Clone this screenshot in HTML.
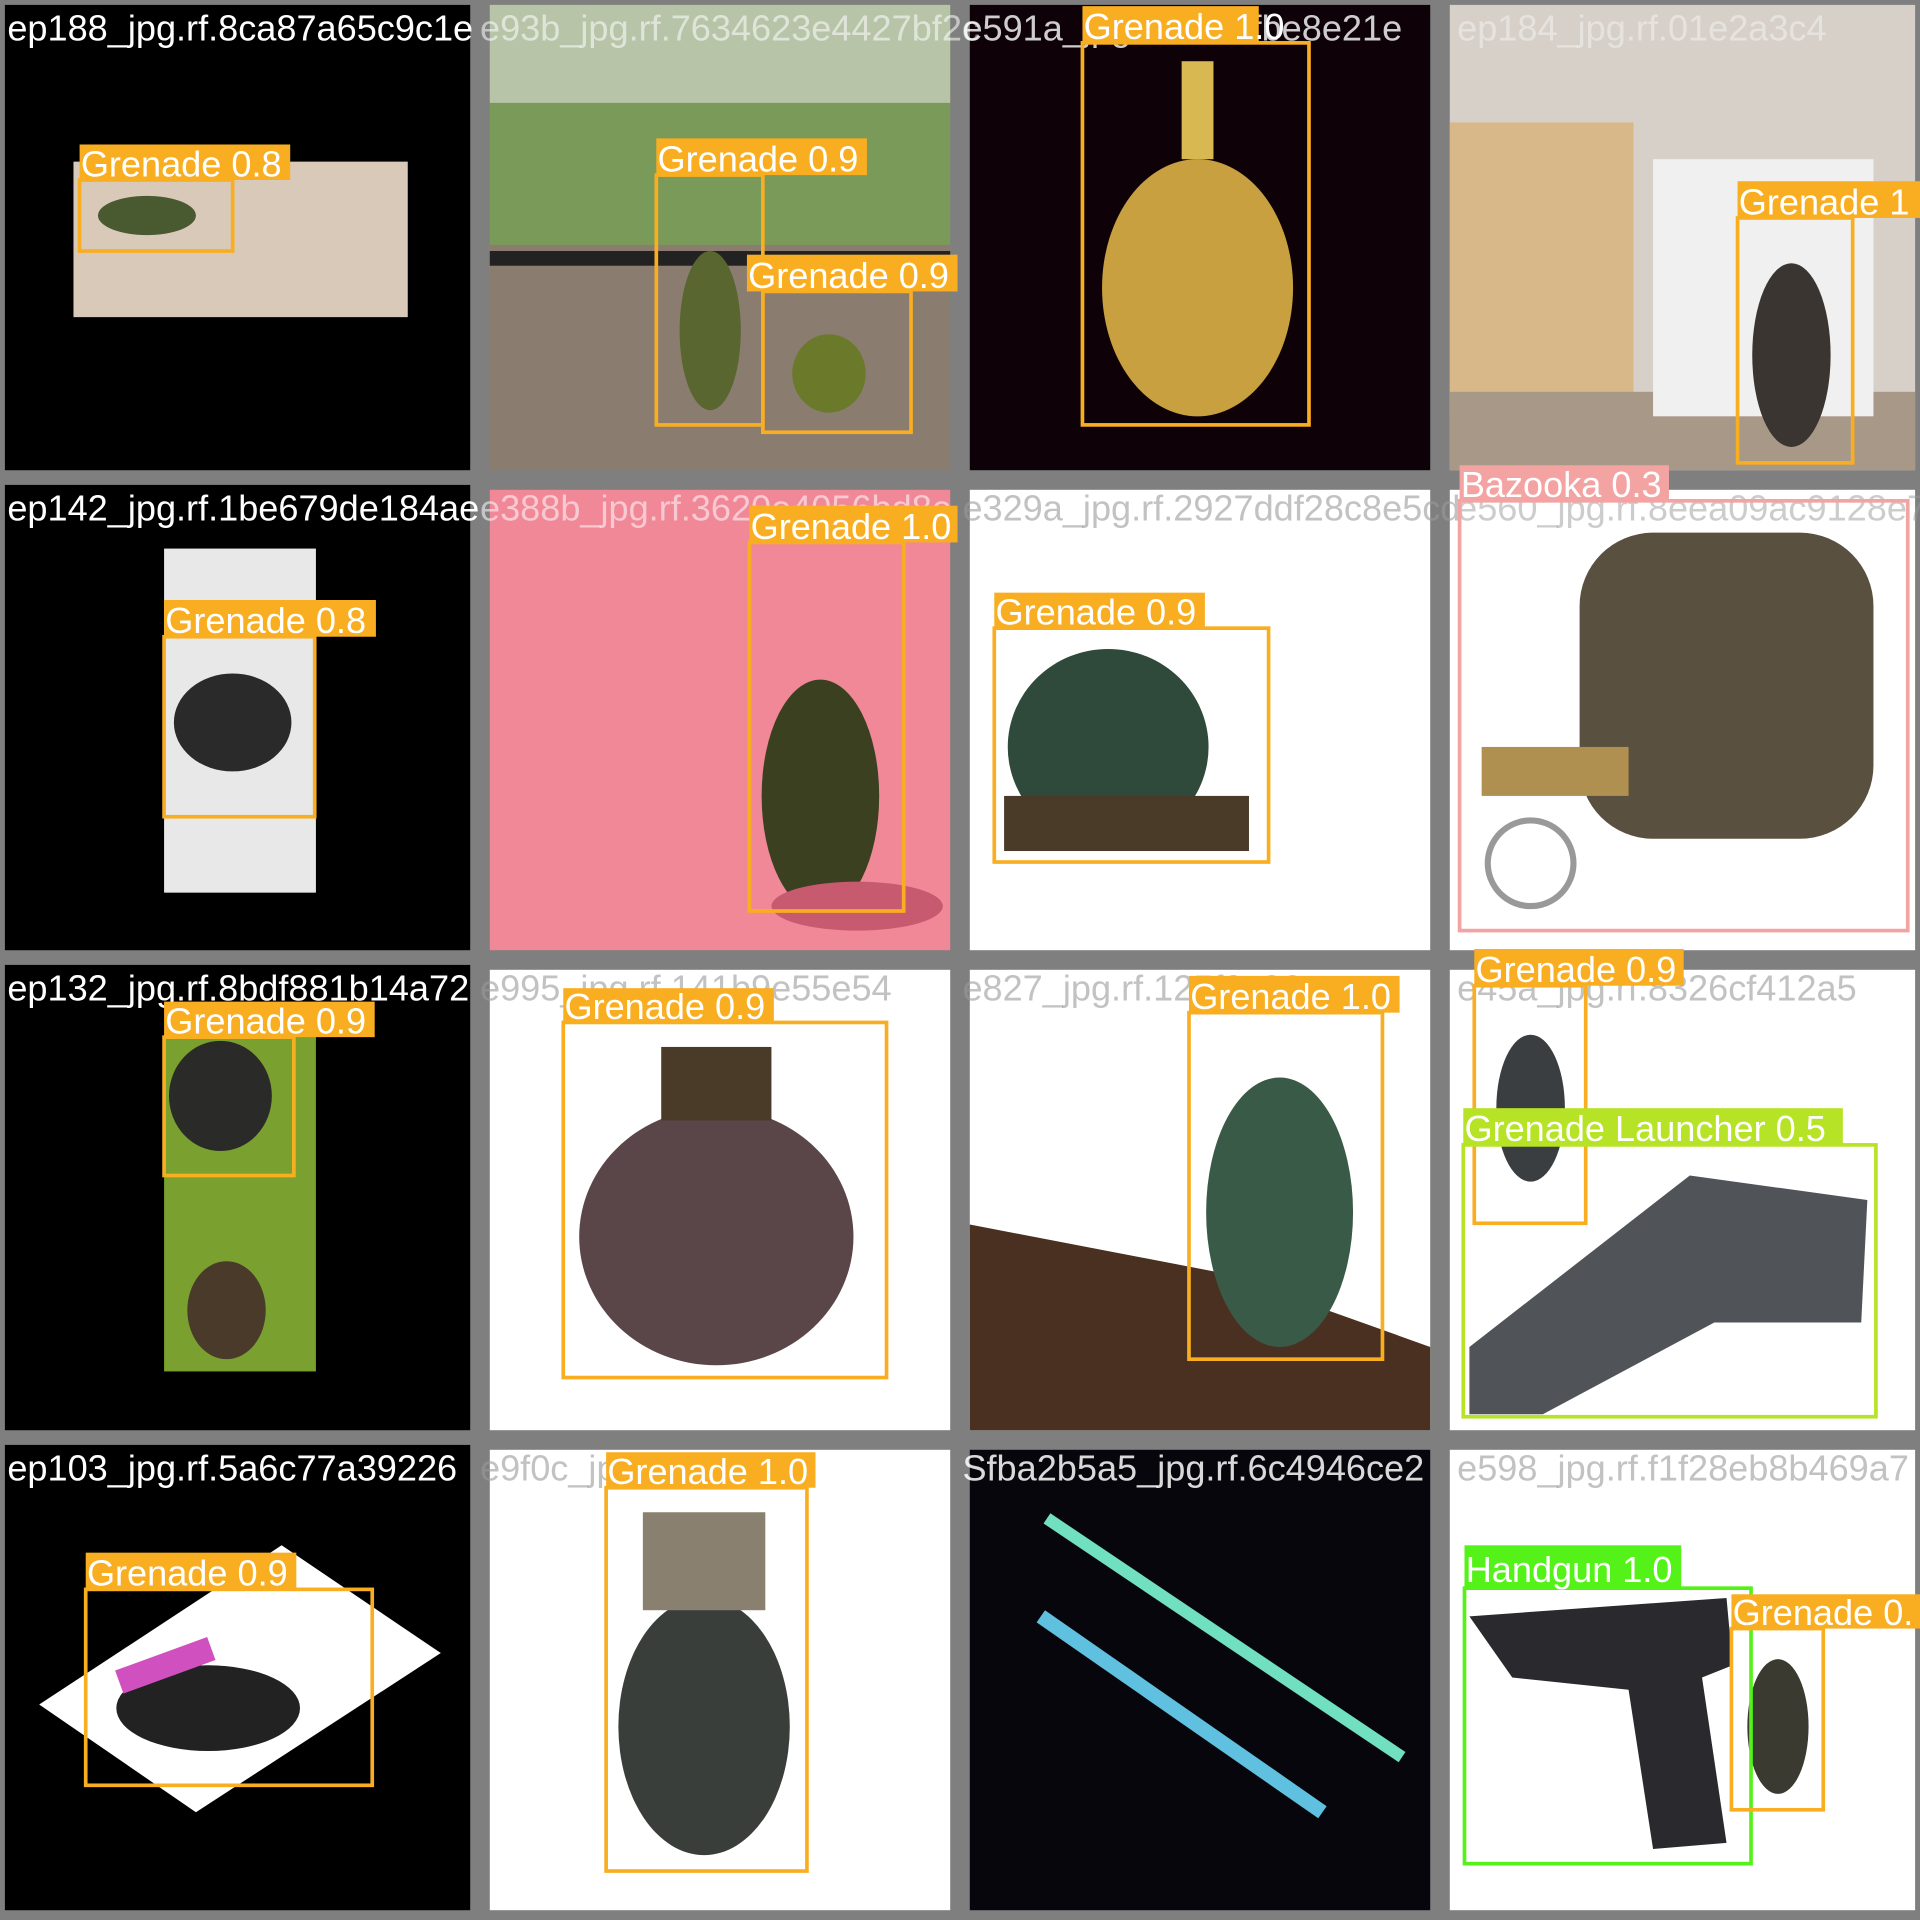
<!DOCTYPE html>
<html><head><meta charset="utf-8"><style>
html,body{margin:0;padding:0;background:#fff;}
svg{display:block;}
text{font-family:"Liberation Sans",sans-serif;}
</style></head><body>
<svg width="1920" height="1920" viewBox="0 0 1568 1568" xmlns="http://www.w3.org/2000/svg">
<rect x="0" y="0" width="1568" height="1568" fill="#7f7f7f"/>
<g>
<rect x="4" y="4" width="380" height="380" fill="#000"/>
<rect x="60" y="132" width="273" height="127" fill="#d9c9b8"/>
<ellipse cx="120" cy="176" rx="40" ry="16" fill="#4a5a30"/>
</g>
<g>
<rect x="400" y="4" width="376" height="380" fill="#7a9a5a"/>
<rect x="400" y="4" width="376" height="80" fill="#b8c4a8"/>
<rect x="400" y="200" width="376" height="184" fill="#8a7d70"/>
<rect x="400" y="205" width="376" height="12" fill="#222"/>
<ellipse cx="580" cy="270" rx="25" ry="65" fill="#5a6630"/>
<ellipse cx="677" cy="305" rx="30" ry="32" fill="#6a7a2a"/>
</g>
<g>
<rect x="792" y="4" width="376" height="380" fill="#0e0208"/>
<ellipse cx="978" cy="235" rx="78" ry="105" fill="#c8a040"/>
<rect x="965" y="50" width="26" height="80" fill="#d8b850"/>
</g>
<g>
<rect x="1184" y="4" width="380" height="380" fill="#d6d0c8"/>
<rect x="1184" y="100" width="150" height="240" fill="#d8b888"/>
<rect x="1184" y="320" width="380" height="64" fill="#a89888"/>
<rect x="1350" y="130" width="180" height="210" fill="#f0f0f0"/>
<ellipse cx="1463" cy="290" rx="32" ry="75" fill="#3a3530"/>
</g>
<g>
<rect x="4" y="396" width="380" height="380" fill="#000"/>
<rect x="134" y="448" width="124" height="281" fill="#e8e8e8"/>
<ellipse cx="190" cy="590" rx="48" ry="40" fill="#2a2a2a"/>
</g>
<g>
<rect x="400" y="400" width="376" height="376" fill="#f08898"/>
<ellipse cx="670" cy="650" rx="48" ry="95" fill="#3a4020"/>
<ellipse cx="700" cy="740" rx="70" ry="20" fill="#c85a70"/>
</g>
<g>
<rect x="792" y="400" width="376" height="376" fill="#fff"/>
<ellipse cx="905" cy="610" rx="82" ry="80" fill="#2f4a3a"/>
<rect x="820" y="650" width="200" height="45" fill="#4a3a28"/>
</g>
<g>
<rect x="1184" y="400" width="380" height="376" fill="#fff"/>
<rect x="1290" y="435" width="240" height="250" rx="60" fill="#5a5040"/>
<rect x="1210" y="610" width="120" height="40" fill="#b09050"/>
<circle cx="1250" cy="705" r="35" fill="none" stroke="#999" stroke-width="5"/>
</g>
<g>
<rect x="4" y="788" width="380" height="380" fill="#000"/>
<rect x="134" y="845" width="124" height="275" fill="#7aa030"/>
<ellipse cx="180" cy="895" rx="42" ry="45" fill="#2a2a28"/>
<ellipse cx="185" cy="1070" rx="32" ry="40" fill="#4a3a2a"/>
</g>
<g>
<rect x="400" y="792" width="376" height="376" fill="#fff"/>
<ellipse cx="585" cy="1010" rx="112" ry="105" fill="#5a4648"/>
<rect x="540" y="855" width="90" height="60" fill="#4a3a28"/>
</g>
<g>
<rect x="792" y="792" width="376" height="376" fill="#fff"/>
<polygon points="792,1000 1000,1040 1168,1100 1168,1168 792,1168" fill="#4a3020"/>
<ellipse cx="1045" cy="990" rx="60" ry="110" fill="#3a5a48"/>
</g>
<g>
<rect x="1184" y="792" width="380" height="376" fill="#fff"/>
<polygon points="1200,1100 1380,960 1525,980 1520,1080 1400,1080 1260,1155 1200,1155" fill="#505458"/>
<ellipse cx="1250" cy="905" rx="28" ry="60" fill="#3a3e40"/>
</g>
<g>
<rect x="4" y="1180" width="380" height="380" fill="#000"/>
<polygon points="230,1262 360,1350 160,1480 32,1392" fill="#fff"/>
<ellipse cx="170" cy="1395" rx="75" ry="35" fill="#222"/>
<rect x="95" y="1350" width="80" height="20" fill="#d050c0" transform="rotate(-20 135 1360)"/>
</g>
<g>
<rect x="400" y="1184" width="376" height="376" fill="#fff"/>
<ellipse cx="575" cy="1410" rx="70" ry="105" fill="#3a3e3a"/>
<rect x="525" y="1235" width="100" height="80" fill="#8a8070"/>
</g>
<g>
<rect x="792" y="1184" width="376" height="376" fill="#06060c"/>
<line x1="855" y1="1240" x2="1145" y2="1435" stroke="#70e0c0" stroke-width="10"/>
<line x1="850" y1="1320" x2="1080" y2="1480" stroke="#60c0e0" stroke-width="12"/>
</g>
<g>
<rect x="1184" y="1184" width="380" height="376" fill="#fff"/>
<polygon points="1200,1320 1410,1305 1415,1360 1390,1370 1410,1505 1350,1510 1330,1380 1235,1370" fill="#2a2a2e"/>
<ellipse cx="1452" cy="1410" rx="25" ry="55" fill="#3a3a30"/>
</g>

<g font-size="29.5">
<text x="6" y="33" fill="#fff">ep188_jpg.rf.8ca87a65c9c1e</text>
<text x="392" y="33" fill="#fff" fill-opacity="0.55">e93b_jpg.rf.7634623e4427bf2c</text>
<text x="786" y="33" fill="#fff" fill-opacity="0.8">e591a_jpg.rf.3c00fbe8e21e</text>
<text x="1190" y="33" fill="#fff" fill-opacity="0.4">ep184_jpg.rf.01e2a3c4</text>
<text x="6" y="425" fill="#fff">ep142_jpg.rf.1be679de184ae</text>
<text x="392" y="425" fill="#fff" fill-opacity="0.55">e388b_jpg.rf.3620e4056bd8e</text>
<text x="786" y="425" fill="#999" fill-opacity="0.6">e329a_jpg.rf.2927ddf28c8e5cd</text>
<text x="1190" y="425" fill="#999" fill-opacity="0.5">e560_jpg.rf.8eea09ac9128e7</text>
<text x="6" y="817" fill="#fff">ep132_jpg.rf.8bdf881b14a72</text>
<text x="392" y="817" fill="#999" fill-opacity="0.6">e995_jpg.rf.141b9e55e54</text>
<text x="786" y="817" fill="#999" fill-opacity="0.6">e827_jpg.rf.125f0c06</text>
<text x="1190" y="817" fill="#999" fill-opacity="0.6">e45a_jpg.rf.8326cf412a5</text>
<text x="6" y="1209" fill="#fff">ep103_jpg.rf.5a6c77a39226</text>
<text x="392" y="1209" fill="#999" fill-opacity="0.6">e9f0c_jpg.rf.f5492eb</text>
<text x="786" y="1209" fill="#fff" fill-opacity="0.85">Sfba2b5a5_jpg.rf.6c4946ce2</text>
<text x="1190" y="1209" fill="#999" fill-opacity="0.6">e598_jpg.rf.f1f28eb8b469a7</text>
</g>

<g fill="none" stroke-width="3">
<rect x="65" y="147" width="125" height="58" stroke="#f9ae22"/>
<rect x="536" y="143" width="87" height="204" stroke="#f9ae22"/>
<rect x="623" y="238" width="121" height="115" stroke="#f9ae22"/>
<rect x="884" y="35" width="185" height="312" stroke="#f9ae22"/>
<rect x="1419" y="178" width="94" height="200" stroke="#f9ae22"/>
<rect x="134" y="520" width="123" height="147" stroke="#f9ae22"/>
<rect x="612" y="443" width="126" height="301" stroke="#f9ae22"/>
<rect x="812" y="513" width="224" height="191" stroke="#f9ae22"/>
<rect x="1192" y="409" width="366" height="351" stroke="#f4a3a3"/>
<rect x="134" y="847" width="106" height="113" stroke="#f9ae22"/>
<rect x="460" y="835" width="264" height="290" stroke="#f9ae22"/>
<rect x="971" y="827" width="158" height="283" stroke="#f9ae22"/>
<rect x="1204" y="805" width="91" height="194" stroke="#f9ae22"/>
<rect x="1195" y="935" width="337" height="222" stroke="#b6e326"/>
<rect x="70" y="1298" width="234" height="160" stroke="#f9ae22"/>
<rect x="495" y="1215" width="164" height="313" stroke="#f9ae22"/>
<rect x="1196" y="1297" width="234" height="225" stroke="#55f219"/>
<rect x="1414" y="1330" width="75" height="148" stroke="#f9ae22"/>
</g>

<g font-size="29.5">
<g><rect x="65" y="118" width="172" height="29" fill="#f9ae22"/><text x="66" y="144" fill="#fff">Grenade 0.8</text></g>
<g><rect x="536" y="113" width="172" height="30" fill="#f9ae22"/><text x="537" y="140" fill="#fff">Grenade 0.9</text></g>
<g><rect x="610" y="208" width="172" height="30" fill="#f9ae22"/><text x="611" y="235" fill="#fff">Grenade 0.9</text></g>
<g><rect x="884" y="5" width="144" height="30" fill="#f9ae22"/><text x="885" y="32" fill="#fff">Grenade 1.0</text></g>
<g><rect x="1419" y="148" width="149" height="30" fill="#f9ae22"/><text x="1420" y="175" fill="#fff">Grenade 1</text></g>
<g><rect x="134" y="490" width="173" height="30" fill="#f9ae22"/><text x="135" y="517" fill="#fff">Grenade 0.8</text></g>
<g><rect x="612" y="413" width="170" height="30" fill="#f9ae22"/><text x="613" y="440" fill="#fff">Grenade 1.0</text></g>
<g><rect x="812" y="484" width="172" height="29" fill="#f9ae22"/><text x="813" y="510" fill="#fff">Grenade 0.9</text></g>
<g><rect x="1192" y="380" width="171" height="29" fill="#f4a3a3"/><text x="1193" y="406" fill="#fff">Bazooka 0.3</text></g>
<g><rect x="134" y="818" width="172" height="29" fill="#f9ae22"/><text x="135" y="844" fill="#fff">Grenade 0.9</text></g>
<g><rect x="460" y="807" width="172" height="28" fill="#f9ae22"/><text x="461" y="832" fill="#fff">Grenade 0.9</text></g>
<g><rect x="971" y="797" width="172" height="30" fill="#f9ae22"/><text x="972" y="824" fill="#fff">Grenade 1.0</text></g>
<g><rect x="1204" y="775" width="171" height="30" fill="#f9ae22"/><text x="1205" y="802" fill="#fff">Grenade 0.9</text></g>
<g><rect x="1195" y="905" width="310" height="30" fill="#b6e326"/><text x="1196" y="932" fill="#fff">Grenade Launcher 0.5</text></g>
<g><rect x="70" y="1268" width="172" height="30" fill="#f9ae22"/><text x="71" y="1295" fill="#fff">Grenade 0.9</text></g>
<g><rect x="495" y="1186" width="171" height="29" fill="#f9ae22"/><text x="496" y="1212" fill="#fff">Grenade 1.0</text></g>
<g><rect x="1196" y="1262" width="177" height="35" fill="#55f219"/><text x="1197" y="1292" fill="#fff">Handgun 1.0</text></g>
<g><rect x="1414" y="1302" width="154" height="28" fill="#f9ae22"/><text x="1415" y="1327" fill="#fff">Grenade 0.</text></g>
</g>
</svg>
</body></html>
